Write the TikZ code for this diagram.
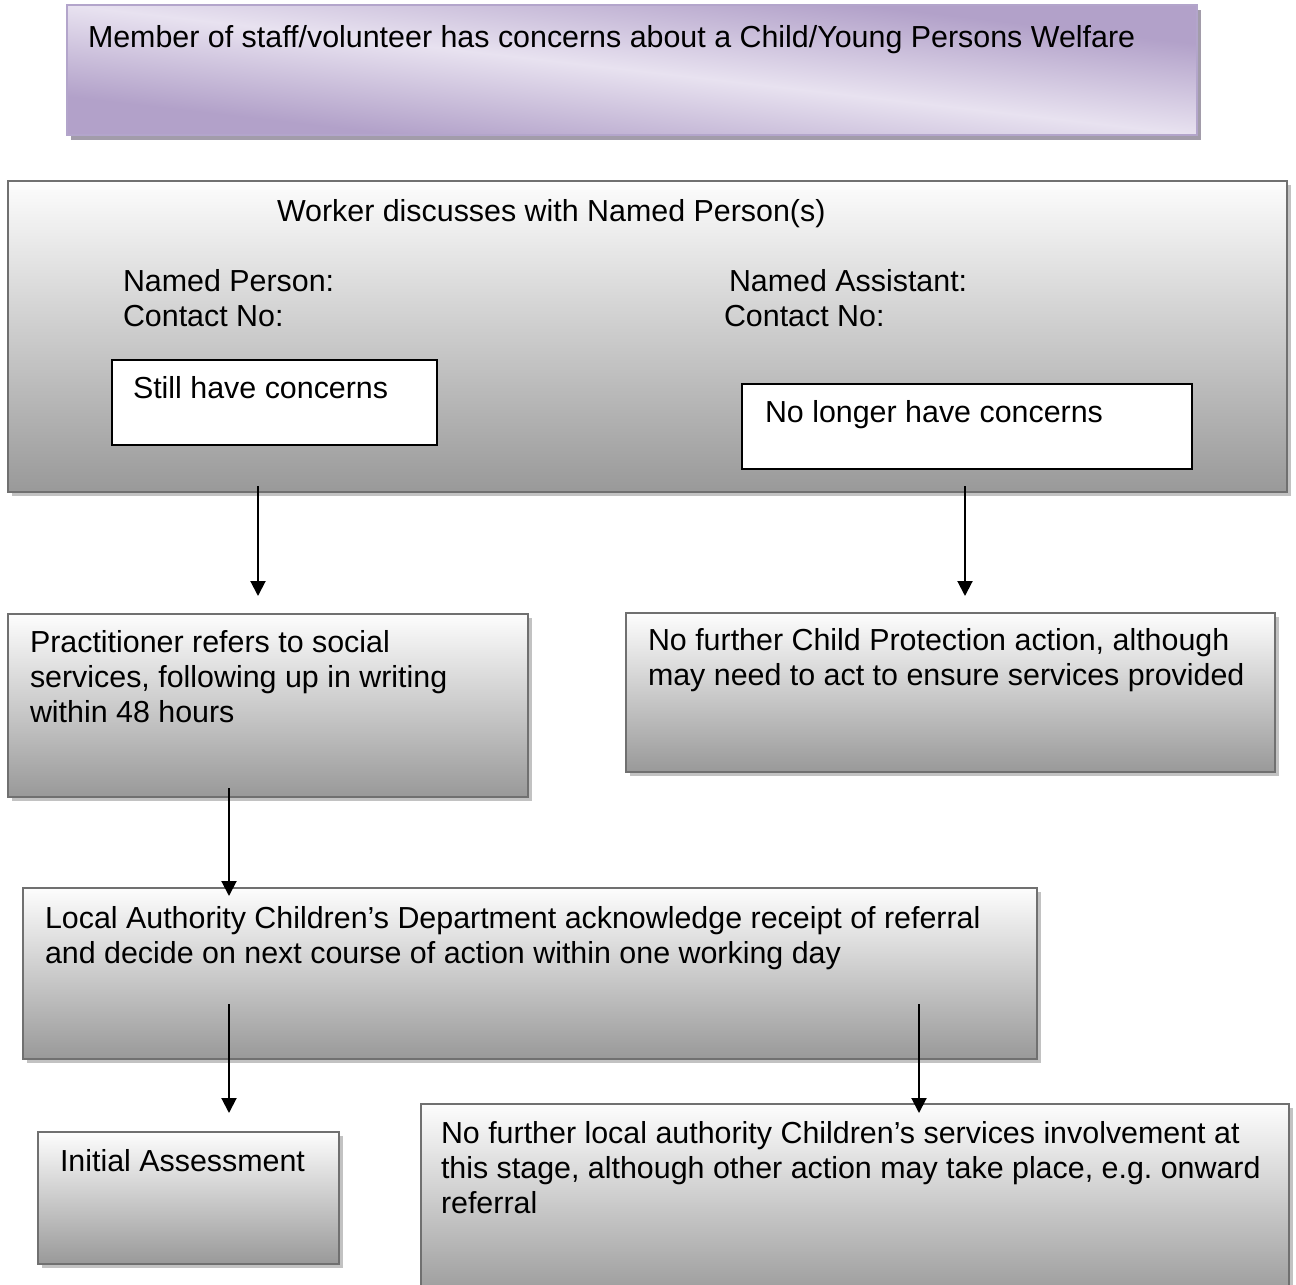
\documentclass[tikz,border=0pt]{standalone}
\usepackage{fontspec}
\setmainfont{Liberation Sans}
\usetikzlibrary{arrows.meta,fit,shadows}
\definecolor{boxedge}{HTML}{707070}
\definecolor{shadowgray}{HTML}{C2C2C2}
\definecolor{gtop}{HTML}{FDFDFD}
\definecolor{gbot}{HTML}{999999}
\definecolor{plight}{HTML}{E8E2F0}
\definecolor{pdark}{HTML}{B2A1C9}
\definecolor{pedge}{HTML}{B3A5CB}
\definecolor{pshadow}{HTML}{A29CAA}
\frenchspacing
\begin{document}
\begin{tikzpicture}[x=0.5pt,y=-0.5pt,
  txt/.style={anchor=base west, inner sep=0pt, outer sep=0pt, align=left,
    font=\fontsize{15.2}{17.5}\selectfont},
  graybox/.style={draw=boxedge, line width=1pt, inner sep=0pt, outer sep=0pt,
    shading=axis, top color=gtop, bottom color=gbot,
    drop shadow={shadow xshift=1.8pt, shadow yshift=-1.8pt, fill=shadowgray, opacity=1, draw=none}},
  purplebox/.style={draw=pedge, line width=1pt, inner sep=0pt, outer sep=0pt, fill=plight,
    drop shadow={shadow xshift=2pt, shadow yshift=-2.5pt, fill=pshadow, opacity=1, draw=none}},
  purpleshade/.style={shading=axis, top color=pdark, bottom color=pdark, middle color=plight, shading angle=-45},
  whitebox/.style={draw=black, line width=1pt, fill=white, inner sep=0pt, outer sep=0pt},
  arr/.style={line width=1pt, -{Triangle[width=7.5pt, length=7.5pt]}}
]
\clip (0,0) rectangle (1296,1285);
\fill[white] (0,0) rectangle (1296,1285);

% top purple box: diagonal shading stretched to the box
\node[purplebox, fit={(67,5) (1197,135)}] (b1) {};
\begin{scope}[transform canvas={shift={(b1.center)}, xscale=5.65, yscale=0.65}]
  \shade[purpleshade] (-50pt,-50pt) rectangle (50pt,50pt);
\end{scope}
\draw[pedge, line width=1pt] (b1.north west) rectangle (b1.south east);

% other boxes
\node[graybox, fit={(8,181) (1287,492)}] (b2) {};
\node[whitebox, fit={(112,360) (437,445)}] (s1) {};
\node[whitebox, fit={(742,384) (1192,469)}] (s2) {};
\node[graybox, fit={(8,614) (528,797)}] (b3) {};
\node[graybox, fit={(626,613) (1275,772)}] (b4) {};
\node[graybox, fit={(23,888) (1037,1059)}] (b5) {};
\node[graybox, fit={(38,1132) (339,1264)}] (b6) {};
\node[graybox, fit={(421,1104) (1289,1300)}] (b7) {};

% texts (multi-line nodes: base anchor = baseline of the last line)
\node[txt] (t1) at (88,47) {Member of staff/volunteer has concerns about a Child/Young Persons Welfare};
\node[txt] (t2) at (277,221) {Worker discusses with Named Person(s)};
\node[txt] (t3) at (123,291) {Named Person:};
\node[txt] (t4) at (123,326) {Contact No:};
\node[txt] (t5) at (729,291) {Named Assistant:};
\node[txt] (t6) at (724,326) {Contact No:};
\node[txt] (t7) at (133,398) {Still have concerns};
\node[txt] (t8) at (765,422) {No longer have concerns};
\node[txt] (t9) at (30,722) {Practitioner refers to social\\services, following up in writing\\within 48 hours};
\node[txt] (t10) at (648,685) {No further Child Protection action, although\\may need to act to ensure services provided};
\node[txt] (t11) at (45,963) {Local Authority Children’s Department acknowledge receipt of referral\\and decide on next course of action within one working day};
\node[txt] (t12) at (60,1171) {Initial Assessment};
\node[txt] (t13) at (441,1213) {No further local authority Children’s services involvement at\\this stage, although other action may take place, e.g. onward\\referral};

% arrow end points
\coordinate (a1s) at (258,486);  \coordinate (a1e) at (258,596);
\coordinate (a2s) at (965,486);  \coordinate (a2e) at (965,596);
\coordinate (a3s) at (229,788);  \coordinate (a3e) at (229,896);
\coordinate (a4s) at (229,1004); \coordinate (a4e) at (229,1113);
\coordinate (a5s) at (919,1004); \coordinate (a5e) at (919,1113);
\draw[arr] (a1s) -- (a1e);
\draw[arr] (a2s) -- (a2e);
\draw[arr] (a3s) -- (a3e);
\draw[arr] (a4s) -- (a4e);
\draw[arr] (a5s) -- (a5e);
\end{tikzpicture}
\end{document}
